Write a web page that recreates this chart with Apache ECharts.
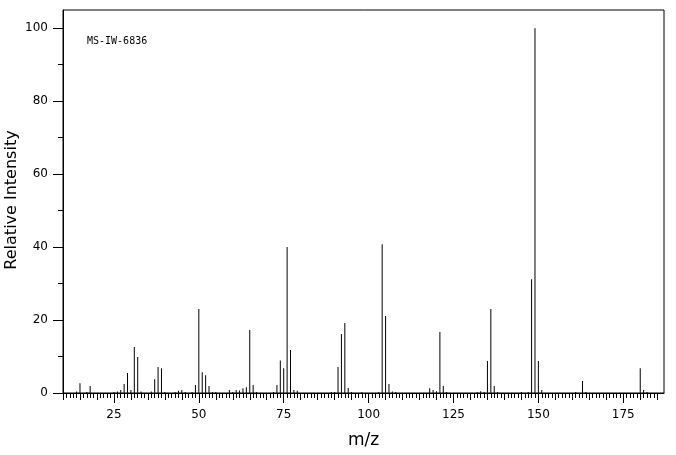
<!DOCTYPE html>
<html>
<head>
<meta charset="utf-8">
<script src="https://cdn.jsdelivr.net/npm/echarts@6/dist/echarts.min.js"></script>
<style>
  html, body { margin: 0; padding: 0; background: #fff; }
  #chart { width: 676px; height: 455px; }
</style>
</head>
<body>
<div id="chart"></div>
<script>
// peak positions (m/z) and relative intensities
const mz = [14, 15, 17, 18, 25, 26, 27, 28, 29, 30, 31, 32, 33, 36, 37, 38, 39, 40,
  43, 44, 45, 46, 48, 49, 50, 51, 52, 53, 54, 55, 59, 60, 61, 62, 63, 64, 65, 66, 67,
  72, 73, 74, 75, 76, 77, 78, 79, 89, 90, 91, 92, 93, 94, 95, 98,
  103, 104, 105, 106, 107, 108, 118, 119, 120, 121, 122, 123,
  132, 133, 134, 135, 136, 137, 138, 145, 147, 148, 149, 150, 151,
  161, 163, 164, 180, 181, 182]
const intensity = [0.4, 2.7, 0.3, 1.9, 0.3, 0.4, 0.8, 2.5, 5.5, 0.8, 12.6, 9.9, 0.4, 0.4, 3.8, 7.1, 6.8, 0.3,
  0.3, 0.6, 0.8, 0.3, 0.3, 2.2, 23.0, 5.7, 4.9, 1.9, 0.3, 0.3, 0.8, 0.3, 0.8, 0.7, 1.3, 1.6, 17.3, 2.2, 0.3,
  0.3, 2.2, 8.9, 6.8, 40.0, 11.8, 0.8, 0.6, 0.3, 0.3, 7.1, 16.2, 19.2, 1.4, 0.3, 0.3,
  0.3, 40.8, 21.1, 2.5, 0.4, 0.3, 1.3, 0.8, 0.5, 16.7, 1.9, 0.3,
  0.3, 0.5, 0.3, 8.8, 23.0, 1.9, 0.3, 0.3, 0.3, 31.2, 100, 8.8, 0.8,
  0.3, 3.3, 0.3, 6.8, 0.8, 0.3]

const xLabels = [25, 50, 75, 100, 125, 150, 175]
const yLabels = [0, 20, 40, 60, 80, 100]
const yMinor = [10, 30, 50, 70, 90]
const sampleName = 'MS-IW-6836'

// tick positions for the smaller x ticks (every 5 and every 1 unit)
const xMid = []
const xSmall = []
for (let v = 10; v <= 185; v++) {
  if (v % 5 === 0) xMid.push(v)
  else xSmall.push(v)
}

const font = 'DejaVu Sans'
const black = '#000'

const myChart = echarts.init(document.getElementById('chart'), null, { renderer: 'canvas' })

const baseX = {
  type: 'value', min: 10, max: 187, position: 'bottom', gridIndex: 0,
  splitLine: { show: false }
}
const baseY = {
  type: 'value', min: 0, max: 105, position: 'left', gridIndex: 0,
  splitLine: { show: false }
}

const option = {
  animation: false,
  backgroundColor: '#fff',
  grid: {
    left: 63, top: 10, right: 12, bottom: 62,
    outerBoundsMode: 'none', containLabel: false,
    show: true, borderColor: black, borderWidth: 1, backgroundColor: 'transparent'
  },
  xAxis: [
    {
      ...baseX,
      name: 'm/z', nameLocation: 'middle', nameGap: 39,
      nameTextStyle: { fontFamily: font, fontSize: 17, color: black },
      axisLine: { show: true, lineStyle: { color: black, width: 1 } },
      axisTick: { show: true, customValues: xLabels, length: 10, lineStyle: { color: black } },
      axisLabel: { customValues: xLabels, margin: 16, fontFamily: font, fontSize: 12, color: black }
    },
    {
      ...baseX,
      axisLine: { show: false },
      axisTick: { show: true, customValues: xMid, length: 7, lineStyle: { color: black } },
      axisLabel: { show: false }
    },
    {
      ...baseX,
      axisLine: { show: false },
      axisTick: { show: true, customValues: xSmall, length: 5, lineStyle: { color: black } },
      axisLabel: { show: false }
    }
  ],
  yAxis: [
    {
      ...baseY,
      axisLine: { show: true, lineStyle: { color: black, width: 1 } },
      axisTick: { show: true, customValues: yLabels, length: 10, lineStyle: { color: black } },
      axisLabel: { customValues: yLabels, margin: 15, fontFamily: font, fontSize: 12, color: black }
    },
    {
      ...baseY,
      axisLine: { show: false },
      axisTick: { show: true, customValues: yMinor, length: 5, lineStyle: { color: black } },
      axisLabel: { show: false }
    }
  ],
  graphic: [
    {
      type: 'text', left: 87, top: 36,
      style: { text: sampleName, font: '10px "DejaVu Sans Mono"', fill: black }
    },
    {
      // y axis title, rotated
      type: 'text', x: 12, y: 200, rotation: Math.PI / 2,
      style: {
        text: 'Relative Intensity', font: '16px "DejaVu Sans"', fill: black,
        align: 'center', verticalAlign: 'middle'
      }
    }
  ],
  series: [
    {
      type: 'bar',
      xAxisIndex: 0, yAxisIndex: 0,
      barWidth: 1,
      itemStyle: { color: black },
      data: mz.map((m, i) => [m, intensity[i]])
    }
  ]
}

myChart.setOption(option)
</script>
</body>
</html>
